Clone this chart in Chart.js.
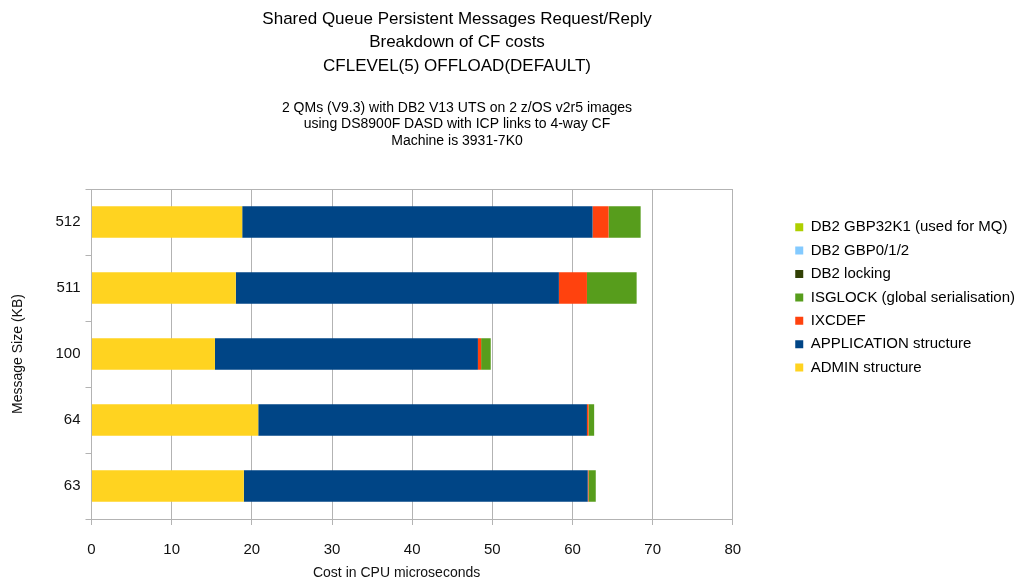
<!DOCTYPE html>
<html>
<head>
<meta charset="utf-8">
<script src="https://cdn.jsdelivr.net/npm/chart.js@4.4.0/dist/chart.umd.min.js"></script>
<style>
  html, body { margin: 0; padding: 0; background: #fff; }
</style>
</head>
<body>
<canvas id="myChart" width="1030" height="582"></canvas>
<script>
// message sizes (KB), top to bottom
const sizes = ['512', '511', '100', '64', '63'];

// CF cost per component, CPU microseconds
const adminStructure = [18.8, 18.0, 15.4, 20.8, 19.0];
const applicationStructure = [43.7, 40.3, 32.8, 41.0, 42.9];
const ixcdef = [2.0, 3.5, 0.4, 0.2, 0.1];
const isglock = [4.0, 6.2, 1.2, 0.7, 0.9];
const db2Locking = [0, 0, 0, 0, 0];
const db2Gbp012 = [0, 0, 0, 0, 0];
const db2Gbp32k1 = [0, 0, 0, 0, 0];

// x axis ticks
const xMin = 0;
const xMax = 80;
const xStep = 10;

const titleLines = [
  'Shared Queue Persistent Messages Request/Reply',
  'Breakdown of CF costs',
  'CFLEVEL(5) OFFLOAD(DEFAULT)'
];
const subtitleLines = [
  '2 QMs (V9.3) with DB2 V13 UTS on 2 z/OS v2r5 images',
  'using DS8900F DASD with ICP links to 4-way CF',
  'Machine is 3931-7K0'
];

const FONT = '"Liberation Sans", Arial, Helvetica, sans-serif';
const gridGrey = '#b3b3b3';

// titles are centred over the left part of the picture, not the canvas
const headerText = {
  id: 'headerText',
  afterDraw(chart) {
    const ctx = chart.ctx;
    ctx.save();
    ctx.fillStyle = '#000';
    ctx.textAlign = 'center';
    ctx.textBaseline = 'middle';
    ctx.font = '17px ' + FONT;
    titleLines.forEach((t, i) => ctx.fillText(t, 457, 19 + i * 23.5));
    ctx.font = '14px ' + FONT;
    subtitleLines.forEach((t, i) => ctx.fillText(t, 457, 108 + i * 16.5));
    ctx.restore();
  }
};

function bar(label, data, color) {
  return {
    label: label,
    data: data,
    backgroundColor: color,
    borderWidth: 0,
    categoryPercentage: 1,
    barPercentage: 0.48
  };
}

const ctx = document.getElementById('myChart');
new Chart(ctx, {
  type: 'bar',
  data: {
    labels: sizes,
    datasets: [
      bar('ADMIN structure', adminStructure, '#ffd320'),
      bar('APPLICATION structure', applicationStructure, '#004586'),
      bar('IXCDEF', ixcdef, '#ff420e'),
      bar('ISGLOCK (global serialisation)', isglock, '#579d1c'),
      bar('DB2 locking', db2Locking, '#314004'),
      bar('DB2 GBP0/1/2', db2Gbp012, '#83caff'),
      bar('DB2 GBP32K1 (used for MQ)', db2Gbp32k1, '#aecf00')
    ]
  },
  options: {
    indexAxis: 'y',
    responsive: false,
    animation: false,
    layout: { padding: { top: 189, left: 0, right: 5, bottom: 0 } },
    plugins: {
      tooltip: { enabled: false },
      title: { display: false },
      legend: {
        position: 'right',
        align: 'start',
        reverse: true,
        maxWidth: 300,
        title: { display: true, text: '', font: { size: 10 }, padding: { top: 0, bottom: 10.3 } },
        labels: {
          boxWidth: 8,
          boxHeight: 8,
          padding: 8.4,
          color: '#000',
          font: { family: FONT, size: 15 }
        }
      }
    },
    scales: {
      x: {
        stacked: true,
        min: xMin,
        max: xMax,
        ticks: { stepSize: xStep, padding: 16, color: '#111', font: { family: FONT, size: 15 } },
        grid: { color: gridGrey, tickLength: 6 },
        border: { color: gridGrey },
        title: {
          display: true,
          // trailing spaces nudge the centred title a bit to the left, as in the original
          text: 'Cost in CPU microseconds        ',
          color: '#111',
          font: { family: FONT, size: 14 },
          padding: { top: 0, bottom: 0.6 }
        },
        afterFit: s => { s.height = 63; }
      },
      y: {
        stacked: true,
        ticks: { padding: 5, color: '#111', font: { family: FONT, size: 15 } },
        grid: {
          offset: true,
          tickLength: 6,
          tickColor: gridGrey,
          color: c => (c.index === 0 ? gridGrey : 'rgba(0,0,0,0)')
        },
        border: { color: gridGrey },
        title: {
          display: true,
          text: 'Message Size (KB)',
          color: '#111',
          font: { family: FONT, size: 14 },
          padding: { top: 9.6, bottom: 0 }
        },
        afterFit: s => { s.width = 91.5; }
      },
      // empty axis used as a gap between plot and legend
      gap: {
        axis: 'y',
        position: 'right',
        display: true,
        ticks: { display: false },
        grid: { display: false },
        border: { display: false },
        afterFit: s => { s.width = 54; }
      }
    }
  },
  plugins: [headerText]
});
</script>
</body>
</html>
